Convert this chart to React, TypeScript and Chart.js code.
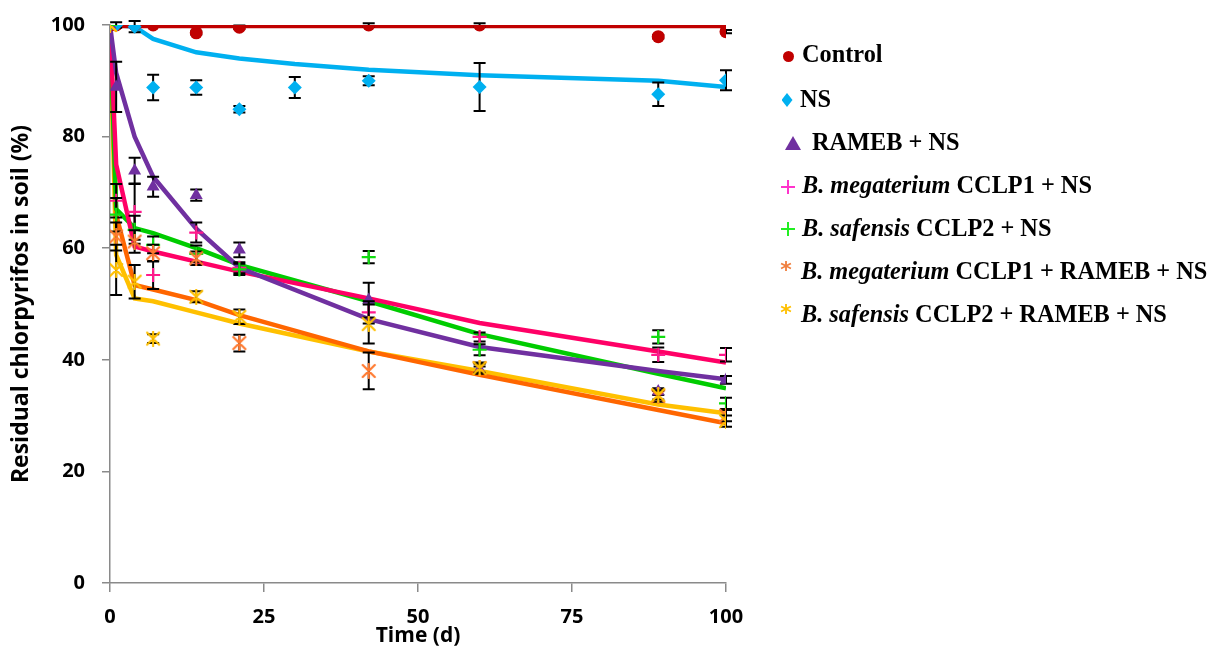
import React, { useEffect, useRef } from 'react';
import { Chart, registerables } from 'chart.js';

Chart.register(...registerables);

// ---------- data ----------
const times = [0, 1, 4, 7, 14, 21, 30, 42, 60, 89, 100];
const xTicks = [0, 25, 50, 75, 100];
const yTicks = [0, 20, 40, 60, 80, 100];

const controlObs = [100, 100, 100, 100, 98.6, 99.6, null, 100, 100, 97.9, 98.8];
const controlErr = [0, 0, 0, 0, 0.3, 0.3, null, 0.3, 0.3, 0.3, 0.3];
const controlFit = [99.8, 99.8, 99.8, 99.8, 99.8, 99.8, 99.8, 99.8, 99.8, 99.8, 99.8];

const nsObs = [100, 100, 99.7, 88.8, 88.8, 84.9, 88.8, 90, 88.9, 87.6, 90.1];
const nsErr = [0, 0.5, 1, 2.3, 1.3, 0.6, 1.9, 0.8, 4.3, 2.1, 1.8];
const nsFit = [100, 100, 99.7, 97.5, 95.1, 94, 93, 92, 91, 90, 88.9];

const ramebObs = [100, 88.9, 73.9, 71.0, 69.5, 59.7, null, 50.7, 38.2, 34.3, 36.4];
const ramebErr = [0, 4.5, 2.3, 1.8, 1.0, 1.3, null, 3.1, 0.6, 0.6, 0.7];
const ramebFit = [100, 91.4, 80, 72.8, 63.5, 56.5, null, 47.3, 42.3, 38, 36.5];

const megObs = [100, 68.5, 66.5, 55.2, 62.8, 56.5, null, 48.5, 44.1, 40.9, 40.9];
const megErr = [0, 3, 5, 2.5, 1.8, 1, null, 2, 0.8, 1.3, 1.2];
const megFit = [100, 75, 60.3, 59.4, 57.6, 55.8, null, 51, 46.6, 41.5, 39.5];

const safObs = [100, 66, 63.3, 60.6, 59, 56.2, null, 58.4, 41.8, 44.1, 32.2];
const safErr = [0, 3, 2.5, 1.5, 1.5, 1, null, 1.1, 1, 1.2, 1];
const safFit = [100, 67, 63.6, 62.7, 60, 57, null, 50.5, 44.6, 37.5, 34.9];

const megRamObs = [100, 62.1, 61.2, 59.1, 58.2, 43.0, null, 38.0, 38.5, 33.5, 30];
const megRamErr = [0, 2.5, 2, 1.5, 1.2, 1.5, null, 3.3, 1, 1, 1];
const megRamFit = [100, 66, 53.4, 52.6, 50.7, 48, null, 41.5, 37.3, 31, 28.6];

const safRamObs = [100, 56.1, 54.0, 43.8, 51.3, 47.7, null, 46.4, 38.5, 33.7, 29];
const safRamErr = [0, 4.5, 3, 0.8, 1, 1.3, null, 3.5, 0.8, 0.8, 1];
const safRamFit = [100, 58.8, 51, 50.5, 48.5, 46.5, null, 41.5, 38, 32, 30.4];

// ---------- helpers ----------
function pts(vals: (number | null)[]) {
  const out: { x: number; y: number }[] = [];
  vals.forEach((v, i) => {
    if (v !== null) out.push({ x: times[i], y: v });
  });
  return out;
}
function errs(vals: (number | null)[], e: (number | null)[]) {
  const out: number[] = [];
  vals.forEach((v, i) => {
    if (v !== null) out.push((e[i] as number) || 0);
  });
  return out;
}

function makeAsterisk(color: string, size: number) {
  const c = document.createElement('canvas');
  c.width = size;
  c.height = size;
  const g = c.getContext('2d')!;
  g.strokeStyle = color;
  g.lineWidth = 2.2;
  g.lineCap = 'round';
  const m = 2;
  g.beginPath();
  g.moveTo(m, m);
  g.lineTo(size - m, size - m);
  g.moveTo(size - m, m);
  g.lineTo(m, size - m);
  g.moveTo(size / 2, m - 1);
  g.lineTo(size / 2, size - m + 1);
  g.stroke();
  return c;
}

const errorBarPlugin = {
  id: 'errorBars',
  beforeDatasetDraw(chart: any, args: any) {
    const ds = chart.data.datasets[args.index];
    if (!ds.errors) return;
    const meta = args.meta;
    const yScale = chart.scales.y;
    const ctx = chart.ctx;
    ctx.save();
    ctx.strokeStyle = '#000';
    ctx.lineWidth = 2;
    meta.data.forEach((el: any, i: number) => {
      const e = ds.errors[i];
      if (!e) return;
      const v = ds.data[i].y;
      const yt = yScale.getPixelForValue(v + e);
      const yb = yScale.getPixelForValue(v - e);
      const x = el.x;
      ctx.beginPath();
      ctx.moveTo(x, yt);
      ctx.lineTo(x, yb);
      ctx.moveTo(x - 6, yt);
      ctx.lineTo(x + 6, yt);
      ctx.moveTo(x - 6, yb);
      ctx.lineTo(x + 6, yb);
      ctx.stroke();
    });
    ctx.restore();
  },
};

const TICK_FONT = { family: "'Open Sans', sans-serif", size: 20, weight: 'bold' as const };
const XTITLE_FONT = { family: "'Open Sans', sans-serif", size: 21, weight: 'bold' as const };
const YTITLE_FONT = { family: "'Open Sans', sans-serif", size: 23, weight: 'bold' as const };
const AXIS_GREY = '#8a8a8a';

function Marker({ kind, cx, cy, color }: { kind: string; cx: number; cy: number; color: string }) {
  const base: React.CSSProperties = { position: 'absolute' };
  if (kind === 'circle') {
    return <div style={{ ...base, left: cx - 5.5, top: cy - 5.5, width: 11, height: 11, borderRadius: '50%', background: color }} />;
  }
  if (kind === 'diamond') {
    return <div style={{ ...base, left: cx - 5.5, top: cy - 7, width: 11, height: 14, background: color, clipPath: 'polygon(50% 0, 100% 50%, 50% 100%, 0 50%)' }} />;
  }
  if (kind === 'triangle') {
    return <div style={{ ...base, left: cx - 8, top: cy - 7, width: 16, height: 14, background: color, clipPath: 'polygon(50% 0, 100% 100%, 0 100%)' }} />;
  }
  if (kind === 'plus') {
    return (
      <div style={{ ...base, left: cx - 7, top: cy - 7, width: 14, height: 14 }}>
        <div style={{ position: 'absolute', left: 0, top: 6, width: 14, height: 2, background: color }} />
        <div style={{ position: 'absolute', left: 6, top: 0, width: 2, height: 14, background: color }} />
      </div>
    );
  }
  return (
    <div style={{ ...base, left: cx - 6, top: cy - 11, width: 12, height: 22, color, font: "bold 22px 'DejaVu Sans', sans-serif", lineHeight: '22px', textAlign: 'center' }}>*</div>
  );
}

const legendItems: { kind: string; color: string; cx: number; cy: number; tx: number; ty: number; parts: { t: string; i?: boolean }[] }[] = [
  { kind: 'circle', color: '#c00000', cx: 788, cy: 56, tx: 802, ty: 55, parts: [{ t: 'Control' }] },
  { kind: 'diamond', color: '#00b0f0', cx: 787, cy: 100, tx: 800, ty: 100, parts: [{ t: 'NS' }] },
  { kind: 'triangle', color: '#7030a0', cx: 793, cy: 143, tx: 812, ty: 143, parts: [{ t: 'RAMEB + NS' }] },
  { kind: 'plus', color: '#ff33cc', cx: 788, cy: 187, tx: 802, ty: 186, parts: [{ t: 'B. megaterium', i: true }, { t: ' CCLP1 + NS' }] },
  { kind: 'plus', color: '#22ee22', cx: 788, cy: 229, tx: 802, ty: 229, parts: [{ t: 'B. safensis', i: true }, { t: ' CCLP2 + NS' }] },
  { kind: 'star', color: '#f08040', cx: 786, cy: 270, tx: 801, ty: 272, parts: [{ t: 'B. megaterium', i: true }, { t: ' CCLP1 + RAMEB + NS' }] },
  { kind: 'star', color: '#ffc000', cx: 786, cy: 313, tx: 801, ty: 315, parts: [{ t: 'B. safensis', i: true }, { t: ' CCLP2 + RAMEB + NS' }] },
];

export default function App() {
  const canvasRef = useRef<HTMLCanvasElement | null>(null);

  useEffect(() => {
    if (!canvasRef.current) return;
    const starOrange = makeAsterisk('#ff7a30', 16);
    const starYellow = makeAsterisk('#ffc000', 16);

    const lineDs = (label: string, vals: (number | null)[], color: string, order: number) => ({
      type: 'line' as const,
      label,
      data: pts(vals),
      borderColor: color,
      backgroundColor: color,
      borderWidth: 4.5,
      pointRadius: 0,
      tension: 0,
      spanGaps: true,
      order,
    });
    const obsDs = (label: string, vals: (number | null)[], e: (number | null)[], color: string, style: any, radius: number, order: number, bw = 2) => ({
      type: 'scatter' as const,
      label,
      data: pts(vals),
      errors: errs(vals, e),
      pointStyle: style,
      pointRadius: radius,
      pointHoverRadius: radius,
      pointBorderWidth: bw,
      pointBackgroundColor: color,
      pointBorderColor: color,
      showLine: false,
      order,
    });

    const chart = new Chart(canvasRef.current, {
      data: {
        datasets: [
          lineDs('Control fit', controlFit, '#c00000', 20),
          lineDs('NS fit', nsFit, '#00b0f0', 21),
          lineDs('RAMEB fit', ramebFit, '#7030a0', 22),
          lineDs('meg fit', megFit, '#ff0066', 23),
          lineDs('saf fit', safFit, '#00cc00', 24),
          lineDs('megRam fit', megRamFit, '#ff6600', 25),
          lineDs('safRam fit', safRamFit, '#ffc000', 26),
          obsDs('Control', controlObs, controlErr, '#c00000', 'circle', 6.5, 7, 0),
          obsDs('NS', nsObs, nsErr, '#00b0f0', 'rectRot', 7, 6, 0),
          obsDs('RAMEB + NS', ramebObs, ramebErr, '#7030a0', 'triangle', 7.5, 5, 0),
          obsDs('B. megaterium CCLP1 + NS', megObs, megErr, '#ff1a8c', 'cross', 7, 4, 2.2),
          obsDs('B. safensis CCLP2 + NS', safObs, safErr, '#11dd11', 'cross', 7, 3, 2.2),
          obsDs('B. megaterium CCLP1 + RAMEB + NS', megRamObs, megRamErr, '#ff7a30', starOrange, 8, 2),
          obsDs('B. safensis CCLP2 + RAMEB + NS', safRamObs, safRamErr, '#ffc000', starYellow, 8, 1),
        ] as any,
      },
      options: {
        animation: false,
        responsive: true,
        maintainAspectRatio: false,
        events: [],
        layout: { padding: { left: 0, right: 482, top: 25, bottom: 0 } },
        plugins: {
          legend: { display: false },
          tooltip: { enabled: false },
        },
        scales: {
          x: {
            type: 'linear',
            min: 0,
            max: 100,
            afterBuildTicks: (s: any) => {
              s.ticks = xTicks.map((v) => ({ value: v }));
            },
            afterFit: (s: any) => {
              s.height = 70;
            },
            grid: { display: true, drawOnChartArea: false, drawTicks: true, tickLength: 9, color: AXIS_GREY, lineWidth: 1.5 },
            border: { display: true, color: AXIS_GREY, width: 1.5 },
            ticks: { font: TICK_FONT, color: '#000', padding: 13, maxRotation: 0, autoSkip: false },
            title: { display: true, text: 'Time (d)', font: XTITLE_FONT, color: '#000', padding: { top: 0, bottom: 4 } },
          },
          y: {
            type: 'linear',
            min: 0,
            max: 100,
            afterBuildTicks: (s: any) => {
              s.ticks = yTicks.map((v) => ({ value: v }));
            },
            afterFit: (s: any) => {
              s.width = 110;
              s.paddingTop = 0;
              s.paddingBottom = 0;
            },
            grid: { display: true, drawOnChartArea: false, drawTicks: true, tickLength: 8, color: AXIS_GREY, lineWidth: 1.5 },
            border: { display: true, color: AXIS_GREY, width: 1.5 },
            ticks: { font: TICK_FONT, color: '#000', padding: 17, autoSkip: false },
            title: { display: true, text: 'Residual chlorpyrifos in soil (%)', font: YTITLE_FONT, color: '#000', padding: { top: 8, bottom: 0 } },
          },
        },
      } as any,
      plugins: [errorBarPlugin],
    });
    return () => chart.destroy();
  }, []);

  return (
    <div style={{ position: 'fixed', left: 0, top: 0, width: 1208, height: 653, background: '#fff', overflow: 'hidden' }}>
      <canvas ref={canvasRef} style={{ position: 'absolute', left: 0, top: 0 }} />
      {legendItems.map((it, k) => (
        <React.Fragment key={k}>
          <Marker kind={it.kind} cx={it.cx} cy={it.cy} color={it.color} />
          <div
            style={{
              position: 'absolute',
              left: it.tx,
              top: it.ty - 15,
              height: 30,
              lineHeight: '30px',
              whiteSpace: 'nowrap',
              font: "bold 24.3px 'Liberation Serif', serif",
              color: '#000',
            }}
          >
            {it.parts.map((p, j) => (
              <span key={j} style={{ fontStyle: p.i ? 'italic' : 'normal' }}>
                {p.t}
              </span>
            ))}
          </div>
        </React.Fragment>
      ))}
    </div>
  );
}
